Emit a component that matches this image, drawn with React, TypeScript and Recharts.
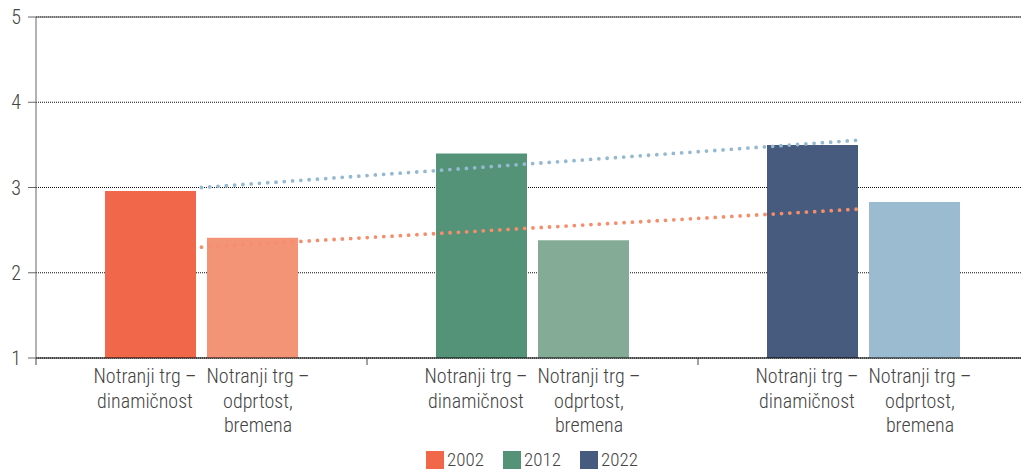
import { BarChart, Bar, Cell, XAxis, YAxis, CartesianGrid, Legend, ReferenceLine } from "recharts";

const years = ["2002", "2012", "2022"];
const dinamicnost = [2.96, 3.4, 3.5];
const odprtost = [2.41, 2.38, 2.83];
const barLabels = [
	["Notranji trg –", "dinamičnost"],
	["Notranji trg –", "odprtost,", "bremena"],
];
const darkColors = ["#f0674a", "#559379", "#475b7e"];
const lightColors = ["#f39476", "#84ab96", "#9bbbd1"];
const trendHigh = [3.0, 3.56];
const trendLow = [2.3, 2.75];
const yTicks = [1, 2, 3, 4, 5];

const FONT = "'Liberation Sans Narrow', 'Roboto Condensed', Lato, sans-serif";

const data = years.map((y, i) => ({ year: y, dinamicnost: dinamicnost[i], odprtost: odprtost[i] }));

function GroupTick(props: any) {
	const { x, y } = props;
	const half = 165.5;
	const offsets = [-56.5, 56.5];
	return (
		<g>
			<line x1={x - half} x2={x - half} y1={y - 8} y2={y - 1} stroke="#444" />
			{barLabels.map((lines, i) => (
				<text key={i} x={x + offsets[i]} y={y + 17} textAnchor="middle" fill="#444" fontSize={20} fontWeight={300} fontFamily={FONT}>
					{lines.map((l, j) => (
						<tspan key={j} x={x + offsets[i]} dy={j === 0 ? 0 : 24.5}>
							{l}
						</tspan>
					))}
				</text>
			))}
		</g>
	);
}

function YearLegend() {
	return (
		<div style={{ width: 1029, height: 35, position: "relative", fontFamily: FONT, fontSize: 19, fontWeight: 300, color: "#444" }}>
			{years.map((y, i) => (
				<div key={y} style={{ position: "absolute", left: 426 + i * 77, top: 13, display: "flex", alignItems: "center" }}>
					<span style={{ width: 18, height: 18, background: darkColors[i], display: "inline-block", marginRight: 3 }} />
					<span style={{ lineHeight: "18px" }}>{y}</span>
				</div>
			))}
		</div>
	);
}

export default function App() {
	return (
		<div style={{ position: "absolute", left: 0, top: 0, width: 1021, height: 473, overflow: "hidden", background: "#fff" }}>
			<BarChart width={1029} height={473} data={data} margin={{ top: 17, right: 0, bottom: 0, left: 0 }} barCategoryGap={69} barGap={11}>
				<CartesianGrid vertical={false} stroke="#111" strokeDasharray="1 1" />
				<ReferenceLine y={5} stroke="#555" strokeDasharray="" />
				<XAxis dataKey="year" axisLine={{ stroke: "#000" }} tickLine={false} height={80} interval={0} tick={<GroupTick />} />
				<YAxis
					domain={[1, 5]}
					ticks={yTicks}
					width={36}
					axisLine={{ stroke: "#666" }}
					tickLine={{ stroke: "#666" }}
					tickSize={8}
					tickMargin={7}
					tick={{ fill: "#444", fontSize: 20, fontWeight: 300, fontFamily: FONT }}
				/>
				<Legend verticalAlign="bottom" content={<YearLegend />} wrapperStyle={{ left: 0, width: 1029 }} />
				<Bar dataKey="dinamicnost" isAnimationActive={false}>
					{data.map((d, i) => (
						<Cell key={d.year} fill={darkColors[i]} />
					))}
				</Bar>
				<Bar dataKey="odprtost" isAnimationActive={false}>
					{data.map((d, i) => (
						<Cell key={d.year} fill={lightColors[i]} />
					))}
				</Bar>
				<ReferenceLine
					segment={[
						{ x: years[0], y: trendHigh[0] },
						{ x: years[2], y: trendHigh[1] },
					]}
					stroke="#94b9d0"
					strokeWidth={3.8}
					strokeDasharray="0 8.3"
					strokeLinecap="round"
				/>
				<ReferenceLine
					segment={[
						{ x: years[0], y: trendLow[0] },
						{ x: years[2], y: trendLow[1] },
					]}
					stroke="#f48e6c"
					strokeWidth={3.8}
					strokeDasharray="0 8.3"
					strokeLinecap="round"
				/>
			</BarChart>
		</div>
	);
}
